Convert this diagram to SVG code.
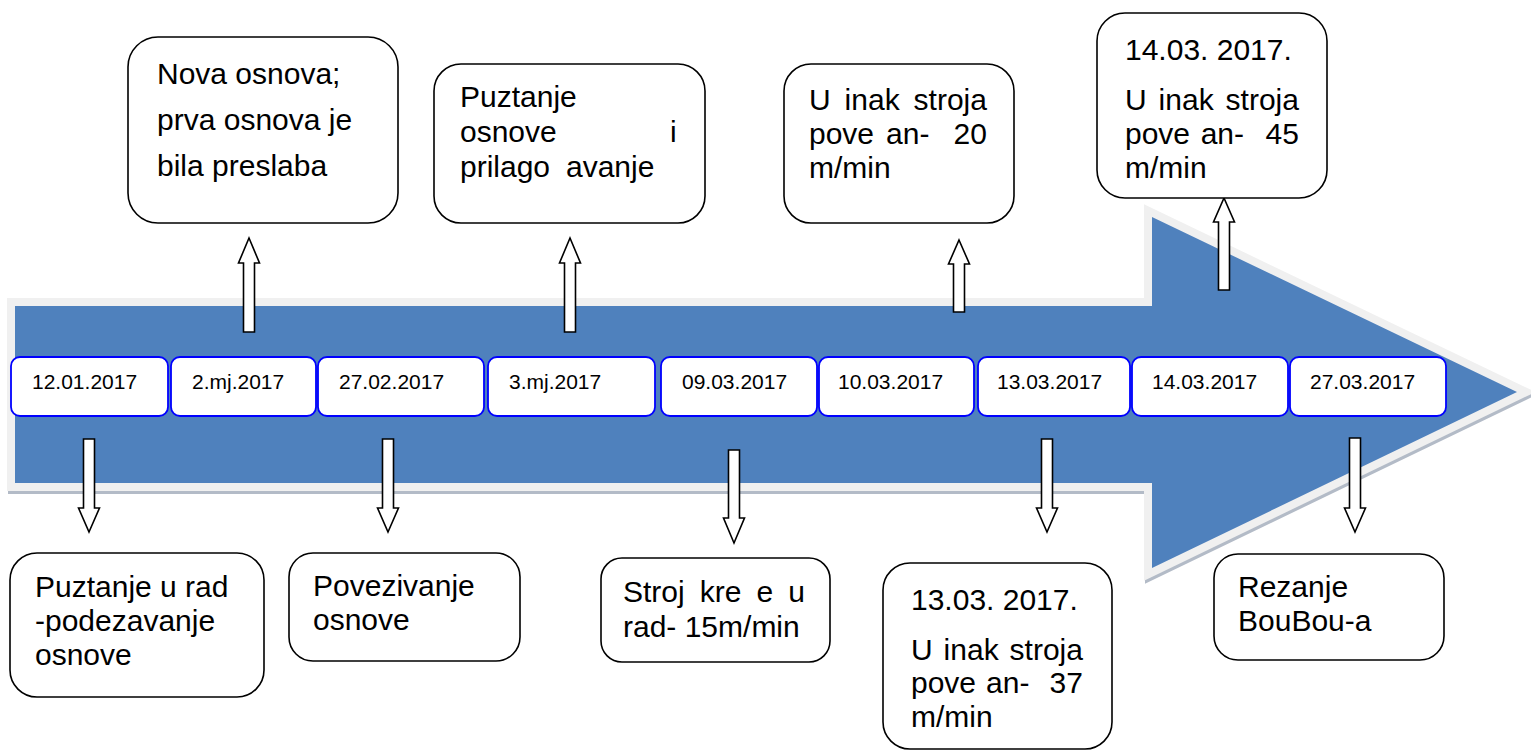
<svg xmlns="http://www.w3.org/2000/svg" width="1531" height="752" viewBox="0 0 1531 752">
<style>
text{font-family:"Liberation Sans",Arial,sans-serif;fill:#000}
.t{font-size:30px}
.d{font-size:21px}
.box{fill:#fff;stroke:#000;stroke-width:1.6}
.date{fill:#fff;stroke:#0000ff;stroke-width:1.8}
.ar{fill:#fff;stroke:#000;stroke-width:1.6;stroke-linejoin:miter}
</style>
<rect width="1531" height="752" fill="#fff"/>
<g id="timeline">
<polygon transform="translate(1,3)" points="15,306 1152,306 1152,217 1517,392 1152,568 1152,483 15,483" fill="#b3bbc7" stroke="#b3bbc7" stroke-width="16" stroke-linejoin="miter"/>
<polygon points="15,306 1152,306 1152,217 1517,392 1152,568 1152,483 15,483" fill="#f0f0f0" stroke="#f0f0f0" stroke-width="16" stroke-linejoin="miter"/>
<polygon points="15,306 1152,306 1152,217 1517,392 1152,568 1152,483 15,483" fill="#4f81bd"/>
</g>
<g id="dates">
<g id="d1"><rect class="date" x="11" y="357" width="157" height="59" rx="9"/><text class="d" x="32" y="389">12.01.2017</text></g>
<g id="d2"><rect class="date" x="171" y="357" width="145" height="59" rx="9"/><text class="d" x="192" y="389">2.mj.2017</text></g>
<g id="d3"><rect class="date" x="318" y="357" width="166" height="59" rx="9"/><text class="d" x="339" y="389">27.02.2017</text></g>
<g id="d4"><rect class="date" x="488" y="357" width="167" height="59" rx="9"/><text class="d" x="509" y="389">3.mj.2017</text></g>
<g id="d5"><rect class="date" x="661" y="357" width="156" height="59" rx="9"/><text class="d" x="682" y="389">09.03.2017</text></g>
<g id="d6"><rect class="date" x="819" y="357" width="155" height="59" rx="9"/><text class="d" x="838" y="389">10.03.2017</text></g>
<g id="d7"><rect class="date" x="978" y="357" width="152" height="59" rx="9"/><text class="d" x="997" y="389">13.03.2017</text></g>
<g id="d8"><rect class="date" x="1132" y="357" width="156" height="59" rx="9"/><text class="d" x="1152" y="389">14.03.2017</text></g>
<g id="d9"><rect class="date" x="1290" y="357" width="156" height="59" rx="9"/><text class="d" x="1310" y="389">27.03.2017</text></g>
</g>
<g id="connectors">
<path class="ar" d="M249,238 L259.5,263 L254.5,263 L254.5,332 L243.5,332 L243.5,263 L238.5,263 Z"/>
<path class="ar" d="M570,238 L580.5,263 L575.5,263 L575.5,332 L564.5,332 L564.5,263 L559.5,263 Z"/>
<path class="ar" d="M959,240 L969.5,264 L964.5,264 L964.5,312 L953.5,312 L953.5,264 L948.5,264 Z"/>
<path class="ar" d="M1224,198 L1234.5,222 L1229.5,222 L1229.5,290 L1218.5,290 L1218.5,222 L1213.5,222 Z"/>
<path class="ar" d="M89,532 L99.5,508 L94.5,508 L94.5,439 L83.5,439 L83.5,508 L78.5,508 Z"/>
<path class="ar" d="M388,532 L398.5,508 L393.5,508 L393.5,439 L382.5,439 L382.5,508 L377.5,508 Z"/>
<path class="ar" d="M734,543 L744.5,518 L739.5,518 L739.5,450 L728.5,450 L728.5,518 L723.5,518 Z"/>
<path class="ar" d="M1047,532 L1057.5,508 L1052.5,508 L1052.5,439 L1041.5,439 L1041.5,508 L1036.5,508 Z"/>
<path class="ar" d="M1355,532 L1365.5,508 L1360.5,508 L1360.5,438 L1349.5,438 L1349.5,508 L1344.5,508 Z"/>
</g>
<g id="n1">
<rect class="box" x="128" y="37" width="270" height="186" rx="30"/>
<text class="t" x="157" y="84">Nova osnova;</text>
<text class="t" x="157" y="130">prva osnova je</text>
<text class="t" x="157" y="176">bila preslaba</text>
</g>
<g id="n2">
<rect class="box" x="434" y="64" width="271" height="159" rx="27"/>
<text class="t" x="460" y="107">Puztanje</text>
<text class="t"><tspan x="460" y="142">osnove</tspan> <tspan x="670" y="142">i</tspan></text>
<text class="t"><tspan x="460" y="177">prilago</tspan> <tspan x="566" y="177">avanje</tspan></text>
</g>
<g id="n3">
<rect class="box" x="784" y="64" width="230" height="159" rx="27"/>
<text class="t"><tspan x="809" y="110">U</tspan> <tspan x="844.6" y="110">inak</tspan> <tspan x="913.6" y="110">stroja</tspan></text>
<text class="t"><tspan x="809" y="144">pove</tspan> <tspan x="886.1" y="144">an-</tspan> <tspan x="953.6" y="144">20</tspan></text>
<text class="t" x="809" y="178">m/min</text>
</g>
<g id="n4">
<rect class="box" x="1097" y="13" width="230" height="185" rx="28"/>
<text class="t" x="1125" y="60">14.03. 2017.</text>
<text class="t"><tspan x="1125" y="110">U</tspan> <tspan x="1158.6" y="110">inak</tspan> <tspan x="1225.6" y="110">stroja</tspan></text>
<text class="t"><tspan x="1125" y="144">pove</tspan> <tspan x="1200.7" y="144">an-</tspan> <tspan x="1265.6" y="144">45</tspan></text>
<text class="t" x="1125" y="178">m/min</text>
</g>
<g id="n5">
<rect class="box" x="10" y="553" width="254" height="144" rx="27"/>
<text class="t" x="35" y="597">Puztanje u rad</text>
<text class="t" x="35" y="631">-podezavanje</text>
<text class="t" x="35" y="665">osnove</text>
</g>
<g id="n6">
<rect class="box" x="289" y="553" width="231" height="108" rx="24"/>
<text class="t" x="313" y="596">Povezivanje</text>
<text class="t" x="313" y="630">osnove</text>
</g>
<g id="n7">
<rect class="box" x="601" y="558" width="229" height="104" rx="21"/>
<text class="t"><tspan x="623" y="602">Stroj</tspan> <tspan x="699.8" y="602">kre</tspan> <tspan x="756.5" y="602">e</tspan> <tspan x="788.3" y="602">u</tspan></text>
<text class="t" x="623" y="637">rad- 15m/min</text>
</g>
<g id="n8">
<rect class="box" x="883" y="563" width="229" height="186" rx="27"/>
<text class="t" x="911" y="610">13.03. 2017.</text>
<text class="t"><tspan x="911" y="660">U</tspan> <tspan x="943.6" y="660">inak</tspan> <tspan x="1009.6" y="660">stroja</tspan></text>
<text class="t"><tspan x="911" y="693">pove</tspan> <tspan x="986.1" y="693">an-</tspan> <tspan x="1049.6" y="693">37</tspan></text>
<text class="t" x="911" y="727">m/min</text>
</g>
<g id="n9">
<rect class="box" x="1214" y="554" width="230" height="106" rx="24"/>
<text class="t" x="1238" y="597">Rezanje</text>
<text class="t" x="1238" y="631">BouBou-a</text>
</g>
</svg>
